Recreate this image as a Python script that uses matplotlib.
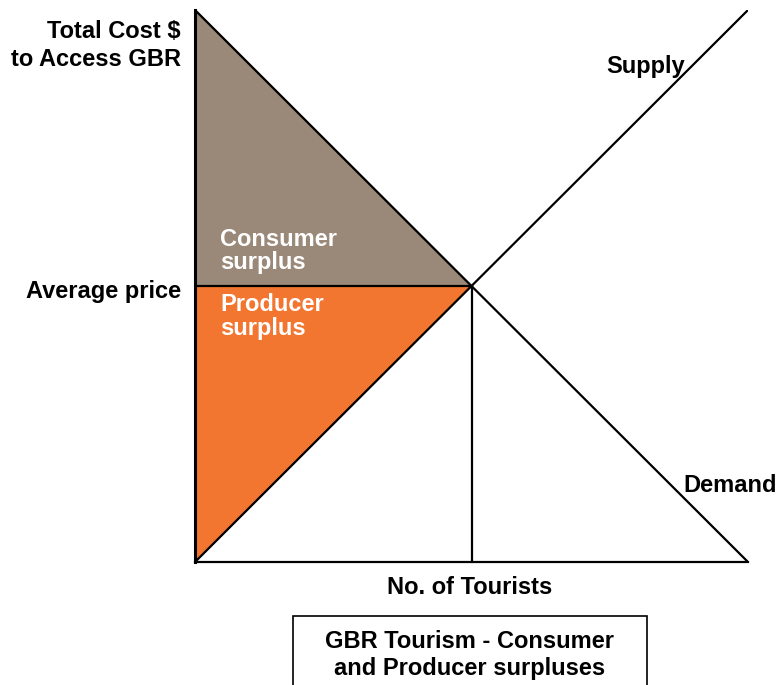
import matplotlib
matplotlib.use("Agg")
import matplotlib.pyplot as plt
from matplotlib.patches import Rectangle

plt.rcParams["font.family"] = ["Liberation Sans", "DejaVu Sans"]

# curves (quantity, price)
demand_q = [0, 10]
demand_p = [10, 0]
supply_q = [0, 10]
supply_p = [0, 10]
eq_q, eq_p = 5, 5

W, H = 776, 685
fig = plt.figure(figsize=(W / 100, H / 100), dpi=100)
x0, x1, y0, y1 = 195, 748, 10, 562
ax = fig.add_axes([x0 / W, 1 - y1 / H, (x1 - x0) / W, (y1 - y0) / H])
ax.set_xlim(0, 10); ax.set_ylim(0, 10)
ax.axis("off")

# surpluses
ax.fill([0, eq_q, 0], [demand_p[0], eq_p, eq_p], color="#9a8878", zorder=1)
ax.fill([0, eq_q, 0], [eq_p, eq_p, supply_p[0]], color="#f2762f", zorder=1)

lw = 1.6
ax.plot(demand_q, demand_p, color="k", lw=lw, zorder=3)
ax.plot(supply_q, supply_p, color="k", lw=lw, zorder=3)
ax.plot([0, eq_q], [eq_p, eq_p], color="k", lw=lw, zorder=3)
ax.plot([eq_q, eq_q], [0, eq_p], color="k", lw=lw, zorder=3)
ax.plot([0, 0], [0, 10], color="k", lw=2.2, zorder=4, clip_on=False)
ax.plot([0, 10], [0, 0], color="k", lw=lw, zorder=4, clip_on=False)

fs = 17


def ftext(x, y, s, ha="left", color="k"):
    fig.text(x / W, 1 - y / H, s, ha=ha, va="center", fontsize=fs,
             fontweight="bold", color=color)


ftext(181, 31, "Total Cost $", ha="right")
ftext(181, 59, "to Access GBR", ha="right")
ftext(181, 291, "Average price", ha="right")
ftext(606, 66, "Supply")
ftext(683, 485, "Demand")
ftext(220, 239, "Consumer", color="white")
ftext(220, 263, "surplus", color="white")
ftext(220, 304, "Producer", color="white")
ftext(220, 329, "surplus", color="white")
ftext(470, 587, "No. of Tourists", ha="center")

fig.patches.append(Rectangle((293 / W, 1 - 700 / H), (647 - 293) / W, (700 - 616) / H,
                             transform=fig.transFigure, fill=False, ec="k", lw=1.2))
ftext(470, 641, "GBR Tourism - Consumer", ha="center")
ftext(470, 668, "and Producer surpluses", ha="center")

fig.savefig("out.png", dpi=100)
